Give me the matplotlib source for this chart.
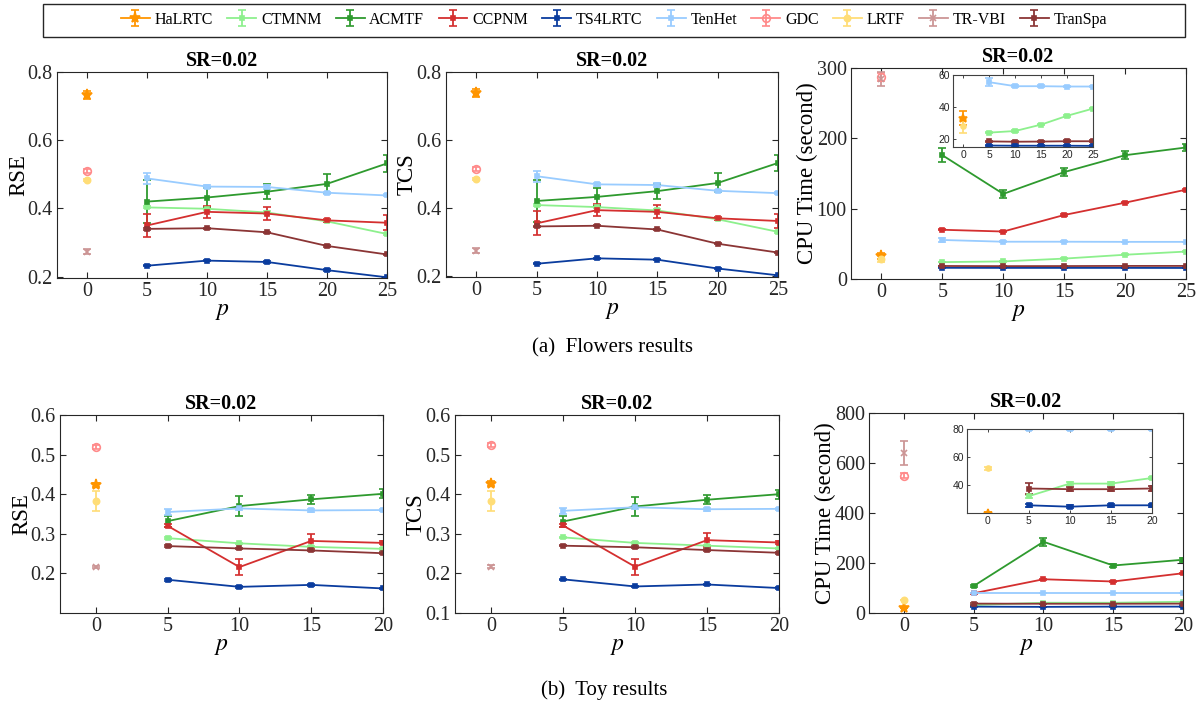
"""
SR=0.02 results on Flowers and Toy: RSE, TCS and CPU time versus p.
Baselines that do not depend on p are drawn as a single point at p=0.
"""
import matplotlib
matplotlib.use("Agg")
import matplotlib.pyplot as plt
from matplotlib.patches import Rectangle

plt.rcParams["font.family"] = ["Liberation Serif", "DejaVu Serif"]
plt.rcParams["mathtext.fontset"] = "stix"

METHODS = ["HaLRTC", "CTMNM", "ACMTF", "CCPNM", "TS4LRTC",
           "TenHet", "GDC", "LRTF", "TR-VBI", "TranSpa"]
BASELINES = ["HaLRTC", "GDC", "LRTF", "TR-VBI"]  # single value, plotted at p=0
INSET_METHODS = ["HaLRTC", "LRTF", "CTMNM", "TenHet", "TranSpa", "TS4LRTC"]

P_FLOWERS = [5, 10, 15, 20, 25]
P_TOY = [5, 10, 15, 20]

# ---- Flowers ----
flw_rse = {
    "HaLRTC": [0.733], "GDC": [0.510], "LRTF": [0.484], "TR-VBI": [0.273],
    "CTMNM": [0.403, 0.399, 0.388, 0.362, 0.325],
    "ACMTF": [0.420, 0.432, 0.449, 0.472, 0.532],
    "CCPNM": [0.350, 0.390, 0.385, 0.365, 0.358],
    "TS4LRTC": [0.232, 0.247, 0.243, 0.219, 0.198],
    "TenHet": [0.488, 0.464, 0.463, 0.446, 0.438],
    "TranSpa": [0.340, 0.342, 0.330, 0.290, 0.265],
}
flw_rse_err = {
    "HaLRTC": [0.012], "GDC": [0.007], "LRTF": [0.003], "TR-VBI": [0.007],
    "CTMNM": [0.003, 0.003, 0.004, 0.003, 0.003],
    "ACMTF": [0.063, 0.027, 0.022, 0.028, 0.024],
    "CCPNM": [0.035, 0.017, 0.019, 0.005, 0.022],
    "TS4LRTC": [0.002, 0.002, 0.002, 0.002, 0.002],
    "TenHet": [0.015, 0.005, 0.006, 0.003, 0.003],
    "TranSpa": [0.002, 0.002, 0.002, 0.002, 0.002],
}

flw_tcs = {
    "HaLRTC": [0.737], "GDC": [0.514], "LRTF": [0.485], "TR-VBI": [0.274],
    "CTMNM": [0.408, 0.402, 0.392, 0.366, 0.329],
    "ACMTF": [0.420, 0.432, 0.449, 0.473, 0.532],
    "CCPNM": [0.354, 0.393, 0.388, 0.369, 0.361],
    "TS4LRTC": [0.235, 0.251, 0.247, 0.221, 0.201],
    "TenHet": [0.493, 0.469, 0.467, 0.450, 0.443],
    "TranSpa": [0.345, 0.347, 0.336, 0.294, 0.268],
}
flw_tcs_err = {
    "HaLRTC": [0.012], "GDC": [0.007], "LRTF": [0.003], "TR-VBI": [0.007],
    "CTMNM": [0.003, 0.003, 0.004, 0.003, 0.003],
    "ACMTF": [0.063, 0.027, 0.022, 0.028, 0.024],
    "CCPNM": [0.035, 0.017, 0.019, 0.005, 0.022],
    "TS4LRTC": [0.002, 0.002, 0.002, 0.002, 0.002],
    "TenHet": [0.016, 0.005, 0.006, 0.003, 0.003],
    "TranSpa": [0.002, 0.002, 0.002, 0.002, 0.002],
}

flw_cpu = {
    "HaLRTC": [33.0], "GDC": [287.0], "LRTF": [28.0], "TR-VBI": [285.0],
    "CTMNM": [24.0, 25.0, 29.0, 34.5, 39.0],
    "ACMTF": [176.0, 121.0, 152.0, 176.0, 187.0],
    "CCPNM": [70.0, 67.5, 91.0, 108.5, 127.0],
    "TS4LRTC": [15.9, 15.8, 15.8, 15.8, 15.7],
    "TenHet": [55.5, 53.0, 53.0, 52.8, 52.8],
    "TranSpa": [18.5, 18.3, 18.4, 18.6, 18.6],
}
flw_cpu_err = {
    "HaLRTC": [4.5], "GDC": [6.0], "LRTF": [4.0], "TR-VBI": [10.0],
    "CTMNM": [0.5, 0.5, 0.5, 0.5, 0.5],
    "ACMTF": [10.0, 6.0, 6.0, 6.0, 5.0],
    "CCPNM": [1.0, 1.0, 1.0, 1.0, 1.5],
    "TS4LRTC": [0.5, 0.5, 0.5, 0.5, 0.5],
    "TenHet": [2.5, 0.5, 0.5, 0.5, 0.5],
    "TranSpa": [0.5, 0.5, 0.5, 0.5, 0.5],
}

# ---- Toy ----
toy_rse = {
    "HaLRTC": [0.423], "GDC": [0.519], "LRTF": [0.383], "TR-VBI": [0.216],
    "CTMNM": [0.289, 0.276, 0.267, 0.262],
    "ACMTF": [0.332, 0.370, 0.387, 0.401],
    "CCPNM": [0.320, 0.216, 0.282, 0.277],
    "TS4LRTC": [0.184, 0.166, 0.171, 0.162],
    "TenHet": [0.355, 0.364, 0.359, 0.360],
    "TranSpa": [0.269, 0.263, 0.258, 0.251],
}
toy_rse_err = {
    "HaLRTC": [0.006], "GDC": [0.005], "LRTF": [0.025], "TR-VBI": [0.003],
    "CTMNM": [0.002, 0.002, 0.002, 0.002],
    "ACMTF": [0.014, 0.025, 0.011, 0.011],
    "CCPNM": [0.004, 0.020, 0.018, 0.004],
    "TS4LRTC": [0.002, 0.002, 0.002, 0.002],
    "TenHet": [0.008, 0.004, 0.004, 0.003],
    "TranSpa": [0.002, 0.002, 0.002, 0.002],
}

toy_tcs = {
    "HaLRTC": [0.427], "GDC": [0.524], "LRTF": [0.382], "TR-VBI": [0.217],
    "CTMNM": [0.291, 0.277, 0.270, 0.263],
    "ACMTF": [0.331, 0.369, 0.386, 0.400],
    "CCPNM": [0.321, 0.217, 0.284, 0.278],
    "TS4LRTC": [0.185, 0.167, 0.172, 0.163],
    "TenHet": [0.358, 0.367, 0.362, 0.363],
    "TranSpa": [0.270, 0.266, 0.259, 0.252],
}
toy_tcs_err = {
    "HaLRTC": [0.006], "GDC": [0.005], "LRTF": [0.025], "TR-VBI": [0.003],
    "CTMNM": [0.002, 0.002, 0.002, 0.002],
    "ACMTF": [0.014, 0.025, 0.011, 0.011],
    "CCPNM": [0.005, 0.020, 0.018, 0.004],
    "TS4LRTC": [0.002, 0.002, 0.002, 0.002],
    "TenHet": [0.008, 0.004, 0.004, 0.003],
    "TranSpa": [0.002, 0.002, 0.002, 0.002],
}

toy_cpu = {
    "HaLRTC": [20.0], "GDC": [550.0], "LRTF": [52.0], "TR-VBI": [640.0],
    "CTMNM": [32.0, 41.0, 41.0, 45.0],
    "ACMTF": [108.0, 285.0, 190.0, 213.0],
    "CCPNM": [79.0, 135.0, 126.0, 159.0],
    "TS4LRTC": [25.5, 24.5, 25.5, 25.5],
    "TenHet": [80.0, 80.0, 80.0, 80.0],
    "TranSpa": [37.5, 37.0, 37.0, 37.5],
}
toy_cpu_err = {
    "HaLRTC": [1.0], "GDC": [9.0], "LRTF": [1.0], "TR-VBI": [48.0],
    "CTMNM": [1.0, 1.0, 1.0, 1.0],
    "ACMTF": [4.0, 15.0, 6.0, 8.0],
    "CCPNM": [2.0, 3.0, 3.0, 3.0],
    "TS4LRTC": [1.0, 1.0, 1.0, 1.0],
    "TenHet": [0.5, 0.5, 0.5, 0.5],
    "TranSpa": [4.0, 1.5, 1.5, 1.5],
}

COLORS = {
    "HaLRTC": "#FF9500", "CTMNM": "#8DF08D", "ACMTF": "#2E9A2E",
    "CCPNM": "#D42F2F", "TS4LRTC": "#0A3C9E", "TenHet": "#99CCFF",
    "GDC": "#FF8A8A", "LRTF": "#FFDD77", "TR-VBI": "#CC9595",
    "TranSpa": "#8B3535",
}
MARKERS = {
    "HaLRTC": ("*", 8), "GDC": ("o", 5.5), "LRTF": ("o", 4.5),
    "TR-VBI": ("x", 4.5),
}

W, H = 1197, 706


def px_axes(fig, left, right, top, bottom):
    return fig.add_axes([left / W, 1 - bottom / H, (right - left) / W, (bottom - top) / H])


def draw(ax, p, vals, errs, methods=METHODS, scale=1.0):
    handles = []
    for m in methods:
        x = [0] if m in BASELINES else p
        mk, ms = MARKERS.get(m, ("s", 3))
        mfc = "none" if m == "GDC" else COLORS[m]
        h = ax.errorbar(x, vals[m], yerr=errs[m], color=COLORS[m],
                        marker=mk, ms=ms * scale, mfc=mfc, mew=1.2,
                        lw=1.3, elinewidth=1.3, capsize=3.2 * scale, capthick=1.3,
                        label=m)
        handles.append(h)
    return handles


def style(ax, xlim, ylim, xticks, yticks, ylabel):
    ax.set_xlim(xlim)
    ax.set_ylim(ylim)
    ax.set_xticks(xticks)
    ax.set_yticks(yticks)
    ax.tick_params(direction="in", top=True, right=True, length=4,
                   width=0.8, labelsize=14.5, colors="#262626", pad=3)
    for s in ax.spines.values():
        s.set_color("#262626")
        s.set_linewidth(0.8)
    ax.set_title("SR=0.02", fontweight="bold", fontsize=14.5, pad=4)
    ax.set_xlabel("$p$", fontsize=17, labelpad=0)
    ax.set_ylabel(ylabel, fontsize=16.5, labelpad=-1)


def style_inset(ax, xlim, ylim, xticks, yticks):
    ax.set_xlim(xlim)
    ax.set_ylim(ylim)
    ax.set_xticks(xticks)
    ax.set_yticks(yticks)
    ax.tick_params(direction="in", top=True, right=True, length=2.5,
                   width=0.6, labelsize=7.5, colors="#262626", pad=2)
    for lab in ax.get_xticklabels() + ax.get_yticklabels():
        lab.set_fontfamily("Liberation Sans")
    for s in ax.spines.values():
        s.set_color("#404040")
        s.set_linewidth(0.8)


fig = plt.figure(figsize=(W / 100, H / 100), dpi=100)

# ---- (a) Flowers ----
xt_a = [0, 5, 10, 15, 20, 25]
ax = px_axes(fig, 57, 387, 72, 278)
handles = draw(ax, P_FLOWERS, flw_rse, flw_rse_err)
style(ax, (-2.5, 25), (0.196, 0.8), xt_a, [0.2, 0.4, 0.6, 0.8], "RSE")

ax = px_axes(fig, 446, 778, 72, 277)
draw(ax, P_FLOWERS, flw_tcs, flw_tcs_err)
style(ax, (-2.5, 25), (0.196, 0.8), xt_a, [0.2, 0.4, 0.6, 0.8], "TCS")

ax = px_axes(fig, 851, 1186, 68, 279)
draw(ax, P_FLOWERS, flw_cpu, flw_cpu_err)
style(ax, (-2.5, 25), (0, 300), xt_a, [0, 100, 200, 300], "CPU Time (second)")

ax = px_axes(fig, 953, 1093, 75, 147)
draw(ax, P_FLOWERS, flw_cpu, flw_cpu_err, methods=INSET_METHODS, scale=0.8)
style_inset(ax, (-2, 25), (15, 60), xt_a, [20, 40, 60])

# ---- (b) Toy ----
xt_b = [0, 5, 10, 15, 20]
ax = px_axes(fig, 60, 383, 415, 613)
draw(ax, P_TOY, toy_rse, toy_rse_err)
style(ax, (-2.5, 20), (0.1, 0.6), xt_b, [0.2, 0.3, 0.4, 0.5, 0.6], "RSE")

ax = px_axes(fig, 455, 779, 415, 613)
draw(ax, P_TOY, toy_tcs, toy_tcs_err)
style(ax, (-2.5, 20), (0.1, 0.6), xt_b, [0.1, 0.2, 0.3, 0.4, 0.5, 0.6], "TCS")

ax = px_axes(fig, 869, 1183, 413, 613)
draw(ax, P_TOY, toy_cpu, toy_cpu_err)
style(ax, (-2.5, 20), (0, 800), xt_b, [0, 200, 400, 600, 800], "CPU Time (second)")

ax = px_axes(fig, 967, 1152, 429, 513)
draw(ax, P_TOY, toy_cpu, toy_cpu_err, methods=INSET_METHODS, scale=0.8)
style_inset(ax, (-2.5, 20), (20, 80), xt_b, [40, 60, 80])

# ---- legend and captions ----
fig.legend(handles, METHODS, loc="center", bbox_to_anchor=(614 / W, 1 - 20 / H),
           ncol=len(METHODS), frameon=False, fontsize=11.5, handlelength=1.8,
           handletextpad=0.3, columnspacing=0.9)
fig.patches.append(Rectangle((43 / W, 1 - 37 / H), (1185 - 43) / W, 33 / H,
                             transform=fig.transFigure, fill=False,
                             edgecolor="#262626", linewidth=1.0))

fig.text(612 / W, 1 - 348 / H, "(a)  Flowers results", ha="center", va="center", fontsize=15)
fig.text(604 / W, 1 - 690 / H, "(b)  Toy results", ha="center", va="center", fontsize=15)

fig.savefig("out.png", dpi=100)
